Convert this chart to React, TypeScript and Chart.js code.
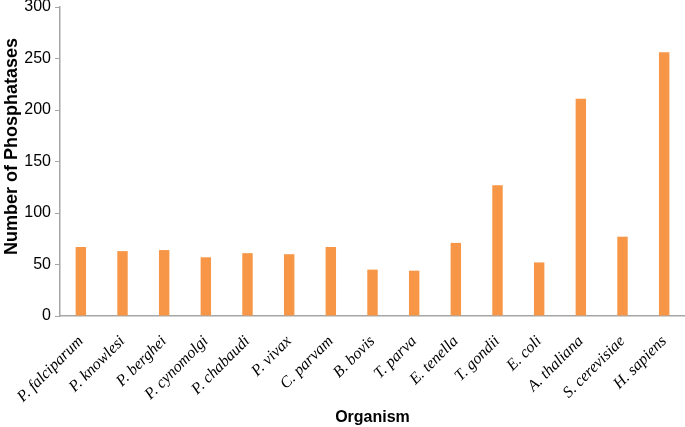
import React, { useEffect, useRef } from "react";
import { Chart, registerables } from "chart.js";

Chart.register(...registerables);

const organisms = [
  "P. falciparum", "P. knowlesi", "P. berghei", "P. cynomolgi", "P. chabaudi",
  "P. vivax", "C. parvam", "B. bovis", "T. parva", "E. tenella",
  "T. gondii", "E. coli", "A. thaliana", "S. cerevisiae", "H. sapiens",
];
const phosphatases = [67, 63, 64, 57, 61, 60, 67, 45, 44, 71, 127, 52, 211, 77, 256];
const yTicks = [0, 50, 100, 150, 200, 250, 300];
const yTitle = "Number of Phosphatases";
const xTitle = "Organism";

// Draws the y-axis title slightly above the axis centre, as in the reference.
const yTitlePlugin = {
  id: "yTitlePlugin",
  afterDraw(chart: any) {
    const { ctx, chartArea } = chart;
    const cy = (chartArea.top + chartArea.bottom) / 2 - 15;
    ctx.save();
    ctx.translate(12, cy);
    ctx.rotate(-Math.PI / 2);
    ctx.fillStyle = "#000";
    ctx.font = "bold 18px 'Liberation Sans'";
    ctx.textAlign = "center";
    ctx.textBaseline = "middle";
    ctx.fillText(yTitle, 0, 0);
    ctx.restore();
  },
};

export default function App() {
  const ref = useRef<HTMLCanvasElement>(null);
  useEffect(() => {
    document.body.style.margin = "0";
    const chart = new Chart(ref.current!, {
      type: "bar",
      data: {
        labels: organisms,
        datasets: [
          {
            data: phosphatases,
            backgroundColor: "#f79646",
            barPercentage: 0.25,
            categoryPercentage: 1,
          },
        ],
      },
      plugins: [yTitlePlugin],
      options: {
        animation: false,
        responsive: false,
        layout: { padding: 0 },
        plugins: { legend: { display: false }, tooltip: { enabled: false } },
        scales: {
          x: {
            grid: { display: false },
            border: { display: true, color: "#a6a6a6", width: 1.5 },
            afterFit: (axis: any) => {
              axis.height = 111;
              axis.paddingLeft = 0;
              axis.paddingRight = 0;
            },
            ticks: {
              minRotation: 45,
              maxRotation: 45,
              autoSkip: false,
              color: "#000",
              padding: 8,
              labelOffset: 0,
              font: { family: "Liberation Serif", style: "italic", size: 16 },
            },
            title: {
              display: true,
              text: xTitle,
              color: "#000",
              font: { family: "Liberation Sans", weight: "bold", size: 16 },
              padding: { top: 0, bottom: 0 },
            },
          },
          y: {
            min: 0,
            max: 300,
            afterBuildTicks: (axis: any) => {
              axis.ticks = yTicks.map((v) => ({ value: v }));
            },
            afterFit: (axis: any) => {
              axis.width = 60;
              axis.paddingTop = 7;
              axis.paddingBottom = 0;
            },
            grid: {
              drawOnChartArea: false,
              drawTicks: true,
              tickLength: 5,
              color: "#a6a6a6",
            },
            border: { display: true, color: "#a6a6a6", width: 1.5 },
            ticks: {
              color: "#000",
              padding: 4,
              font: { family: "Liberation Sans", size: 16 },
            },
            title: { display: false },
          },
        },
      },
    });
    return () => chart.destroy();
  }, []);
  return (
    <div style={{ position: "fixed", left: 0, top: 0, width: 685, height: 427 }}>
      <canvas ref={ref} width={685} height={427} style={{ width: 685, height: 427 }} />
    </div>
  );
}
